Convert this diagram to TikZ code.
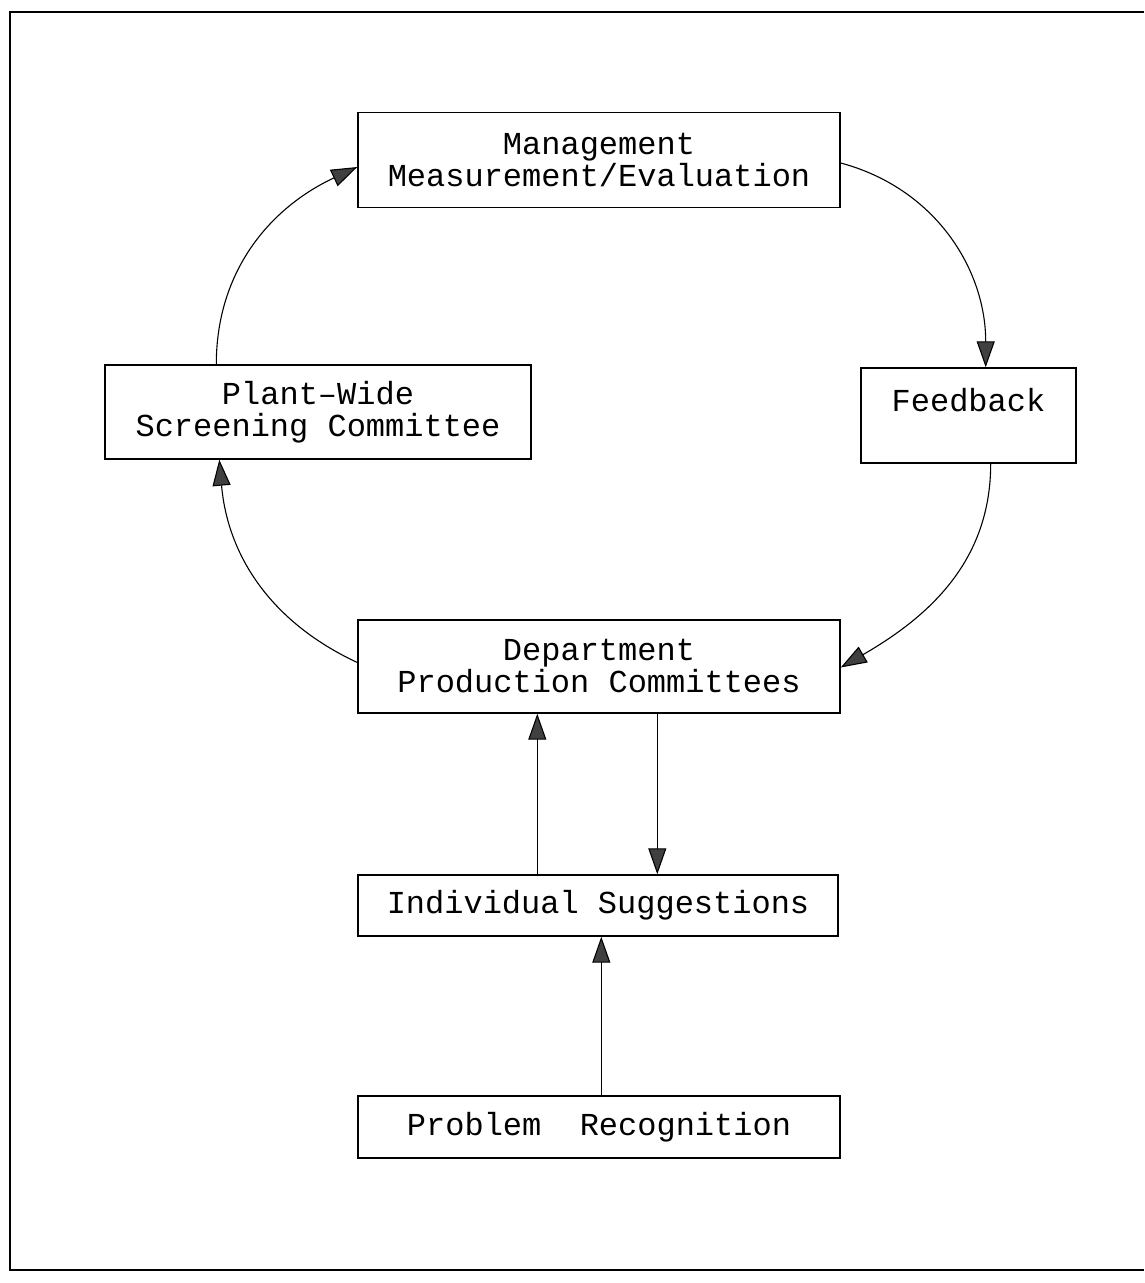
\documentclass[tikz,border=0pt]{standalone}
\usepackage{fontspec}
\setmainfont{Liberation Mono}
\usetikzlibrary{arrows.meta}
\begin{document}
\begin{tikzpicture}[x=1pt,y=1pt,
  box/.style={draw=black, line width=1.4pt, inner sep=0pt, align=center,
    font=\fontsize{32}{32}\selectfont},
  flow/.style={line width=1.1pt, -{Triangle[length=26pt,width=18pt,fill=black!75]}}]
\useasboundingbox (0,0) rectangle (1144,-1283);
% outer frame
\draw[line width=2pt] (1144,-12) -- (10,-12) -- (10,-1270) -- (1144,-1270);

% boxes
\node[box, minimum width=482pt, minimum height=95pt] (mgmt) at (599,-160)
  {Management\\Measurement/Evaluation};
\node[box, minimum width=215pt, minimum height=95pt] (feed) at (968.5,-415.5)
  {Feedback\\\mbox{}};
\node[box, minimum width=426pt, minimum height=94pt] (plant) at (318,-412)
  {Plant–Wide\\Screening Committee};
\node[box, minimum width=482pt, minimum height=93pt] (dept) at (599,-666.5)
  {Department\\Production Committees};
\node[box, minimum width=480pt, minimum height=61pt] (indiv) at (598,-905.5)
  {Individual Suggestions};
\node[box, minimum width=482pt, minimum height=62pt] (prob) at (599,-1127)
  {Problem\ \ Recognition};

% cycle connectors
\draw[flow] ([xshift=112pt]plant.north west) to[out=90,in=205] ([yshift=-7pt]mgmt.west);
\draw[flow] ([yshift=-3pt]mgmt.east) to[out=-15,in=90] ([xshift=-91pt]feed.north east);
\draw[flow] ([xshift=-86pt]feed.south east) to[out=-90,in=30] ([yshift=-1pt]dept.east);
\draw[flow] ([yshift=4pt]dept.west) to[out=155,in=-85] ([xshift=115pt]plant.south west);

% vertical connectors
\draw[flow] ([xshift=180pt]indiv.north west) -- ([xshift=180pt]dept.south west);
\draw[flow] ([xshift=300pt]dept.south west) -- ([xshift=300pt]indiv.north west);
\draw[flow] ([xshift=244pt]prob.north west) -- ([xshift=244pt]indiv.south west);
\end{tikzpicture}
\end{document}
